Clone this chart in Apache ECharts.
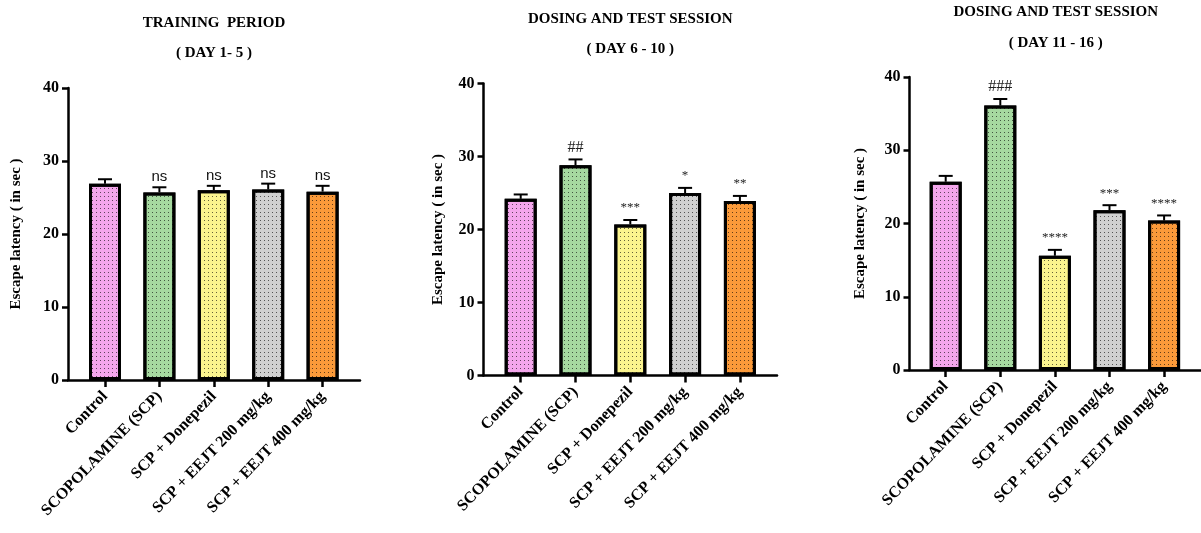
<!DOCTYPE html>
<html>
<head>
<meta charset="utf-8">
<script src="https://cdn.jsdelivr.net/npm/echarts@6/dist/echarts.min.js"></script>
<style>
html, body { margin: 0; padding: 0; background: #fff; }
#main { width: 1201px; height: 533px; }
</style>
</head>
<body>
<div id="main"></div>
<script>
// groups on the x axis (same in every panel)
var groups = ['Control', 'SCOPOLAMINE (SCP)', 'SCP + Donepezil', 'SCP + EEJT 200 mg/kg', 'SCP + EEJT 400 mg/kg'];
var barColors = ['#f4a6ec', '#a6d9a0', '#fbf48e', '#d0d0d0', '#fb9a3a'];

// escape latency (sec), mean and SEM
var day1to5 = [26.9, 25.7, 26.0, 26.1, 25.8];
var day1to5Sem = [0.6, 0.7, 0.6, 0.8, 0.8];
var day1to5Marks = ['', 'ns', 'ns', 'ns', 'ns'];

var day6to10 = [24.2, 28.8, 20.7, 25.0, 23.9];
var day6to10Sem = [0.6, 0.8, 0.6, 0.7, 0.7];
var day6to10Marks = ['', '##', '***', '*', '**'];

var day11to16 = [25.7, 36.1, 15.6, 21.8, 20.4];
var day11to16Sem = [0.8, 0.9, 0.8, 0.7, 0.7];
var day11to16Marks = ['', '###', '****', '***', '****'];

var yMin = 0, yMax = 40, yStep = 10;

var serif = 'Liberation Serif';

// panel layout (pixels)
var panels = [
    { title: 'TRAINING  PERIOD', sub: '( DAY 1- 5 )', mean: day1to5, sem: day1to5Sem, marks: day1to5Marks,
      axisLeft: 68, axisWidth: 292, top: 88, height: 292, dataLeft: 77.8, dataWidth: 272, titleTop: 15, gap: 13, yName: 44 },
    { title: 'DOSING AND TEST SESSION', sub: '( DAY 6 - 10 )', mean: day6to10, sem: day6to10Sem, marks: day6to10Marks,
      axisLeft: 483.5, axisWidth: 293.5, top: 83.5, height: 292, dataLeft: 493.3, dataWidth: 274, titleTop: 11, gap: 13, yName: 38 },
    { title: 'DOSING AND TEST SESSION', sub: '( DAY 11 - 16 )', mean: day11to16, sem: day11to16Sem, marks: day11to16Marks,
      axisLeft: 909.5, axisWidth: 292.5, top: 77, height: 293, dataLeft: 918.4, dataWidth: 273, titleTop: 4, gap: 14, yName: 42 }
];

var grid = [], xAxis = [], yAxis = [], series = [], title = [];

panels.forEach(function (p, k) {
    var ag = k * 2, dg = k * 2 + 1;

    title.push({
        text: p.title,
        subtext: p.sub,
        left: p.axisLeft + p.axisWidth / 2,
        top: p.titleTop,
        textAlign: 'center',
        padding: 0,
        itemGap: p.gap,
        textStyle: { fontFamily: serif, fontWeight: 'bold', fontSize: 15, color: '#000', lineHeight: 17 },
        subtextStyle: { fontFamily: serif, fontWeight: 'bold', fontSize: 15, color: '#000', lineHeight: 17 }
    });

    // grid that carries the axis lines
    grid.push({ left: p.axisLeft, top: p.top, width: p.axisWidth, height: p.height, containLabel: false });
    // grid that carries the bars
    grid.push({ left: p.dataLeft, top: p.top, width: p.dataWidth, height: p.height, containLabel: false });

    xAxis.push({
        gridIndex: ag, type: 'value', min: 0, max: 1,
        axisLine: { show: true, lineStyle: { color: '#000', width: 2.5 } },
        axisTick: { show: false }, axisLabel: { show: false }, splitLine: { show: false }
    });
    xAxis.push({
        gridIndex: dg, type: 'category', data: groups,
        axisLine: { show: false },
        axisTick: { show: true, alignWithLabel: true, length: 7, lineStyle: { color: '#000', width: 2.5 } },
        axisLabel: { interval: 0, rotate: 46, margin: 14, fontFamily: serif, fontWeight: 'bold', fontSize: 16, color: '#000' },
        splitLine: { show: false }
    });

    yAxis.push({
        gridIndex: ag, type: 'value', min: yMin, max: yMax, interval: yStep,
        name: 'Escape latency ( in sec )', nameLocation: 'middle', nameGap: p.yName,
        nameTextStyle: { fontFamily: serif, fontWeight: 'bold', fontSize: 15, color: '#000' },
        axisLine: { show: true, lineStyle: { color: '#000', width: 2.5 } },
        axisTick: { show: true, length: 6, lineStyle: { color: '#000', width: 2.5 } },
        axisLabel: { margin: 9, fontFamily: serif, fontWeight: 'bold', fontSize: 16, color: '#000' },
        splitLine: { show: false }
    });
    yAxis.push({
        gridIndex: dg, type: 'value', min: yMin, max: yMax, show: false, splitLine: { show: false }
    });

    series.push({
        type: 'bar',
        xAxisIndex: dg, yAxisIndex: dg,
        barWidth: 32,
        data: p.mean.map(function (v, i) {
            return {
                value: v,
                itemStyle: {
                    color: barColors[i],
                    borderColor: '#000',
                    borderWidth: 3,
                    decal: {
                        symbol: 'rect', symbolSize: 1,
                        color: 'rgba(0,0,0,0.6)',
                        dashArrayX: [1, 3], dashArrayY: [1, 3]
                    }
                }
            };
        }),
        silent: true
    });

    series.push({
        type: 'custom',
        xAxisIndex: dg, yAxisIndex: dg,
        data: p.mean.map(function (v, i) { return [i, v, p.sem[i]]; }),
        renderItem: function (params, api) {
            var i = api.value(0);
            var base = api.coord([i, api.value(1)]);
            var top = api.coord([i, api.value(1) + api.value(2)]);
            var lw = { stroke: '#000', lineWidth: 2 };
            var children = [
                { type: 'line', shape: { x1: base[0], y1: base[1], x2: top[0], y2: top[1] }, style: lw },
                { type: 'line', shape: { x1: top[0] - 7, y1: top[1], x2: top[0] + 7, y2: top[1] }, style: lw }
            ];
            var mark = p.marks[params.dataIndex];
            if (mark) {
                var isNs = mark === 'ns';
                var isStar = mark.charAt(0) === '*';
                children.push({
                    type: 'text',
                    style: {
                        text: mark,
                        x: top[0],
                        y: top[1] - (isNs ? 10 : 12),
                        align: 'center',
                        verticalAlign: 'middle',
                        fill: isNs ? '#111' : '#222',
                        font: isNs ? '15px "Liberation Sans"' : (isStar ? '13px "Liberation Serif"' : '16px "Liberation Serif"')
                    }
                });
            }
            return { type: 'group', children: children };
        },
        silent: true,
        z: 3
    });
});

var option = {
    backgroundColor: '#fff',
    animation: false,
    title: title,
    grid: grid,
    xAxis: xAxis,
    yAxis: yAxis,
    series: series
};

var myChart = echarts.init(document.getElementById('main'));
myChart.setOption(option);
</script>
</body>
</html>
